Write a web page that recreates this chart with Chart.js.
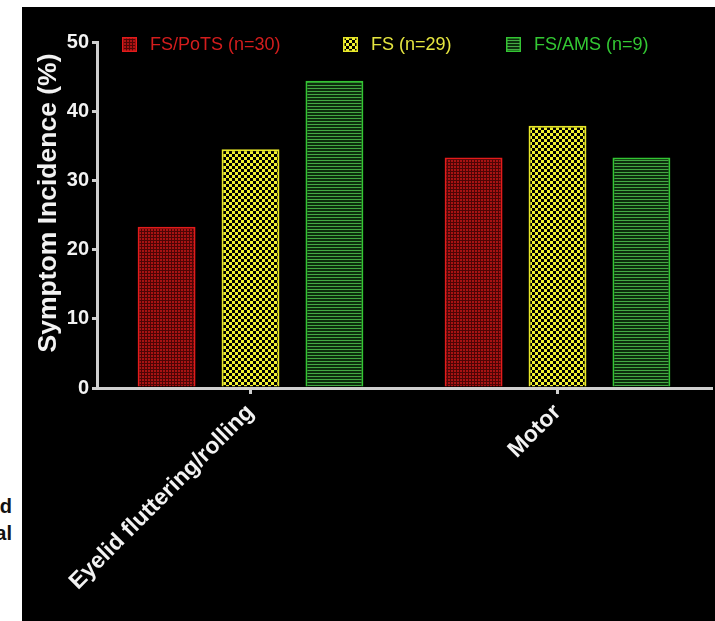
<!DOCTYPE html>
<html>
<head>
<meta charset="utf-8">
<script src="https://cdn.jsdelivr.net/npm/chart.js@4"></script>
<style>
  html, body { margin: 0; padding: 0; background: #fff; width: 715px; height: 621px; overflow: hidden; }
  #panel { position: absolute; left: 22px; top: 7px; width: 693px; height: 614px; background: #000; }
  #side { position: absolute; left: 0; top: 0; width: 13px; height: 621px; overflow: hidden; }
  .frag { position: absolute; right: 1px; font: bold 20px "Liberation Sans", Arial, sans-serif; color: #111; white-space: nowrap; line-height: 1; }
</style>
</head>
<body>
<div id="side">
  <div class="frag" style="top:496px">d</div>
  <div class="frag" style="top:523px">al</div>
</div>
<div id="panel"><canvas id="c" width="693" height="614"></canvas></div>
<script>
// Symptom incidence by patient group
const categories = ['Eyelid fluttering/rolling', 'Motor'];
const seriesNames = ['FS/PoTS (n=30)', 'FS (n=29)', 'FS/AMS (n=9)'];
const fsPots = [23.3, 33.3];
const fsOnly = [34.5, 37.9];
const fsAms = [44.4, 33.3];
const yTicks = [0, 10, 20, 30, 40, 50];
const yTitle = 'Symptom Incidence (%)';

const FONT = '"Liberation Sans", Arial, sans-serif';

// Small repeating tiles used as bar fills
function makePattern(w, h, draw) {
  const c = document.createElement('canvas');
  c.width = w; c.height = h;
  const g = c.getContext('2d');
  draw(g);
  return g.createPattern(c, 'repeat');
}
const redFill = makePattern(3, 3, g => {
  g.fillStyle = '#a81313'; g.fillRect(0, 0, 3, 3);
  g.fillStyle = '#4e0505'; g.fillRect(2, 0, 1, 3); g.fillRect(0, 2, 3, 1);
});
const yellowFill = makePattern(6, 6, g => {
  g.fillStyle = '#f0f030'; g.fillRect(0, 0, 6, 6);
  g.fillStyle = '#000'; g.fillRect(3, 0, 3, 3); g.fillRect(0, 3, 3, 3);
});
const greenFill = makePattern(1, 3, g => {
  g.fillStyle = '#0d2e0d'; g.fillRect(0, 0, 1, 3);
  g.fillStyle = '#44a844'; g.fillRect(0, 0, 1, 1);
});

const fills = [redFill, yellowFill, greenFill];
const edges = ['#e21b1b', '#e8e828', '#33c433'];
const textColors = ['#d41d1d', '#e6e640', '#33c833'];

// Legend across the top of the plot area, and the rotated y-axis title
const decorations = {
  id: 'decorations',
  afterDraw(chart) {
    const g = chart.ctx;
    const xs = [100, 321, 484];
    g.save();
    g.font = '18px ' + FONT;
    g.textBaseline = 'middle';
    chart.data.datasets.forEach((ds, i) => {
      const bx = xs[i], by = 30, s = 15;
      g.fillStyle = fills[i];
      g.fillRect(bx, by, s, s);
      g.strokeStyle = edges[i];
      g.lineWidth = 1.5;
      g.strokeRect(bx + 0.75, by + 0.75, s - 1.5, s - 1.5);
      g.fillStyle = textColors[i];
      g.fillText(ds.label, bx + s + 13, by + s / 2 + 1);
    });
    g.restore();

    g.save();
    g.translate(27, 196);
    g.rotate(-Math.PI / 2);
    g.font = 'bold 26.5px ' + FONT;
    g.fillStyle = '#f2f2f2';
    g.textAlign = 'center';
    g.textBaseline = 'middle';
    g.fillText(yTitle, 0, 0);
    g.restore();
  }
};

new Chart(document.getElementById('c').getContext('2d'), {
  type: 'bar',
  data: {
    labels: categories,
    datasets: [
      { label: seriesNames[0], data: fsPots, backgroundColor: redFill, borderColor: edges[0], borderWidth: 2 },
      { label: seriesNames[1], data: fsOnly, backgroundColor: yellowFill, borderColor: edges[1], borderWidth: 2 },
      { label: seriesNames[2], data: fsAms, backgroundColor: greenFill, borderColor: edges[2], borderWidth: 2 }
    ]
  },
  options: {
    responsive: false,
    animation: false,
    layout: { padding: { top: 35, right: 4, left: 0, bottom: 0 } },
    datasets: { bar: { categoryPercentage: 0.82, barPercentage: 0.69 } },
    plugins: { legend: { display: false }, tooltip: { enabled: false } },
    scales: {
      x: {
        grid: { display: true, drawOnChartArea: false, offset: false, tickLength: 6, color: '#cfcfcf', lineWidth: 3 },
        border: { display: true, color: '#cfcfcf', width: 3 },
        ticks: { color: '#f2f2f2', font: { family: FONT, weight: 'bold', size: 23 }, minRotation: 45, maxRotation: 45, padding: 5 },
        afterFit(s) { s.height = 233; }
      },
      y: {
        min: 0, max: 50,
        afterBuildTicks(s) { s.ticks = yTicks.map(v => ({ value: v })); },
        grid: { display: true, drawOnChartArea: false, tickLength: 5, color: '#cfcfcf', lineWidth: 3 },
        border: { display: true, color: '#cfcfcf', width: 3 },
        ticks: { color: '#f2f2f2', font: { family: FONT, weight: 'bold', size: 20 }, padding: 3 },
        afterFit(s) { s.width = 75; }
      }
    }
  },
  plugins: [decorations]
});
</script>
</body>
</html>
